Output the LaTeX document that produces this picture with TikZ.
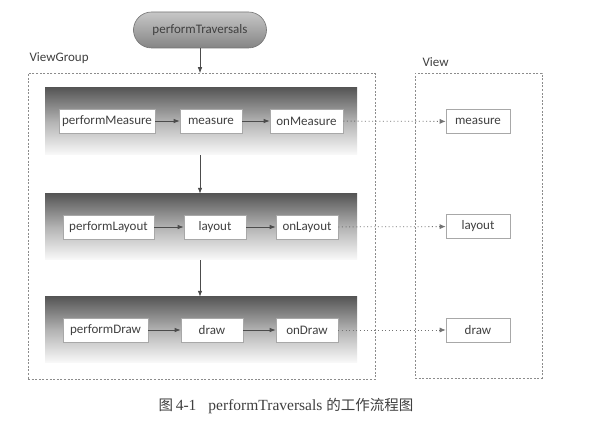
\documentclass[tikz,border=0pt]{standalone}
\usepackage{fontspec}
\setmainfont{Carlito}
\newfontfamily\capfont{Liberation Serif}
\newfontfamily\cjkfont{Noto Sans CJK SC}
\usetikzlibrary{arrows.meta,shapes.misc}
\definecolor{txt}{HTML}{404040}
\definecolor{bord}{HTML}{A8A8A8}
\begin{document}
\begin{tikzpicture}[x=1pt,y=-1pt,
  every node/.style={text=txt,font=\fontsize{13}{15}\selectfont},
  fbox/.style={draw=bord,line width=0.6pt,fill=white,inner sep=0pt,minimum height=24pt},
  band/.style={draw=none,top color=black!66,bottom color=black!2,middle color=black!30,inner sep=0pt},
  grp/.style={draw=black!45,line width=0.5pt,dash pattern=on 2pt off 1.6pt},
  flow/.style={draw=black!70,line width=0.8pt,-{Latex[length=6pt,width=4.5pt]}},
  dotl/.style={draw=black!55,line width=0.8pt,dash pattern=on 1pt off 2.6pt,-{Latex[length=6pt,width=5pt]}}
]
\useasboundingbox (0,0) rectangle (600,430);
\fill[white] (0,0) rectangle (600,430);

% group frames
\node[grp,minimum width=347pt,minimum height=306pt,inner sep=0pt] (vg) at (201.5,226.5) {};
\node[grp,minimum width=127pt,minimum height=305pt,inner sep=0pt] (vw) at (478.5,225.5) {};
\node[anchor=west] (vgl) at (26,58) {ViewGroup};
\node[anchor=west] (vwl) at (419,62) {View};

% top oval
\node[rounded rectangle,draw=black!55,line width=0.6pt,top color=black!22,bottom color=black!48,
  minimum width=133pt,minimum height=36pt,inner sep=0pt] (pt) at (200,30) {performTraversals};

% bands
\node[band,minimum width=312pt,minimum height=67pt] (b1) at (201,121.5) {};
\node[band,minimum width=312pt,minimum height=66pt] (b2) at (201,227) {};
\node[band,minimum width=312pt,minimum height=66pt] (b3) at (201,330) {};

% row 1
\node[fbox,minimum width=96pt] (pm) at (107,121) {performMeasure};
\node[fbox,minimum width=62pt] (m1) at (211,121) {measure};
\node[fbox,minimum width=73pt] (om) at (306.5,121) {onMeasure};
% row 2
\node[fbox,minimum width=91pt] (pl) at (108.5,227) {performLayout};
\node[fbox,minimum width=62pt] (l1) at (215,227) {layout};
\node[fbox,minimum width=62pt] (ol) at (307,227) {onLayout};
% row 3
\node[fbox,minimum width=85pt] (pd) at (105.5,330) {performDraw};
\node[fbox,minimum width=62pt] (d1) at (212,330) {draw};
\node[fbox,minimum width=62pt] (od) at (307,330) {onDraw};
% view boxes
\node[fbox,minimum width=64pt] (vm) at (478,121.5) {measure};
\node[fbox,minimum width=64pt] (vl) at (478,226.5) {layout};
\node[fbox,minimum width=64pt] (vd) at (478,330) {draw};

% flow arrows
\draw[flow] (pt.south) -- (vg.north -| pt.south);
\draw[flow] (b1.south -| pt.south) -- (b2.north -| pt.south);
\draw[flow] (b2.south -| pt.south) -- (b3.north -| pt.south);
\draw[flow] (pm) -- (m1);
\draw[flow] (m1) -- (om);
\draw[flow] (pl) -- (l1);
\draw[flow] (l1) -- (ol);
\draw[flow] (pd) -- (d1);
\draw[flow] (d1) -- (od);
\draw[dotl] (om) -- (vm);
\draw[dotl] (ol) -- (vl);
\draw[dotl] (od) -- (vd);

% caption
\node[font=\capfont\fontsize{15.5}{17}\selectfont,text=black!75] (cap) at (286,406)
  {{\cjkfont\fontsize{14.5}{17}\selectfont 图}\,4-1\hspace{12pt}performTraversals {\cjkfont\fontsize{14.5}{17}\selectfont 的工作流程图}};
\end{tikzpicture}
\end{document}
